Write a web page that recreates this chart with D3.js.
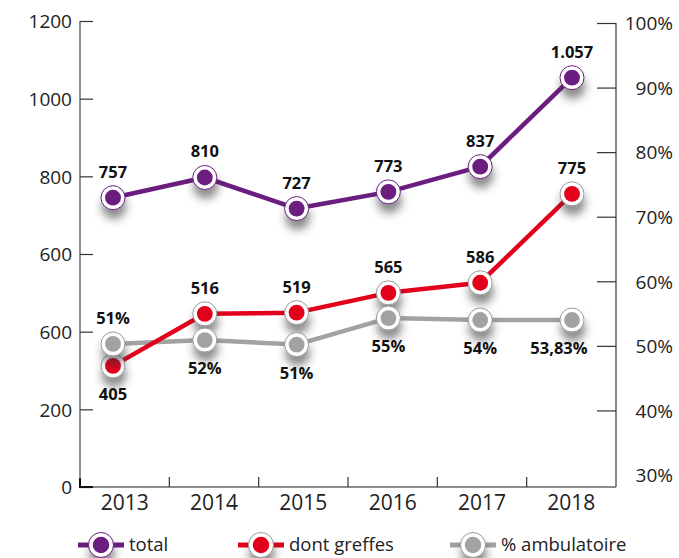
<!DOCTYPE html>
<html>
<head>
<meta charset="utf-8">
<script src="https://cdn.jsdelivr.net/npm/d3@7"></script>
<style>
  body { margin: 0; background: #fff; }
  text { font-family: "Open Sans", sans-serif; }
</style>
</head>
<body>
<div id="chart"></div>
<script>
const years = ["2013", "2014", "2015", "2016", "2017", "2018"];
// plotted positions (left axis units)
const totalValues = [745, 797, 717, 760, 825, 1054];
const totalLabels = ["757", "810", "727", "773", "837", "1.057"];
const greffesValues = [312, 446, 449, 500, 526, 755];
const greffesLabels = ["405", "516", "519", "565", "586", "775"];
// right axis, percent
const ambuValues = [50.3, 50.9, 50.2, 54.3, 54.0, 54.0];
const ambuLabels = ["51%", "52%", "51%", "55%", "54%", "53,83%"];
const leftTicks = [0, 200, 400, 600, 800, 1000, 1200];
const leftTickLabels = ["0", "200", "600", "600", "800", "1000", "1200"];
const rightTicks = [30, 40, 50, 60, 70, 80, 90, 100];

const purple = "#6b1d80", red = "#e3001b", grey = "#a2a2a2";

const W = 679, H = 558;
const svg = d3.select("#chart").append("svg").attr("width", W).attr("height", H);

const defs = svg.append("defs");
const f = defs.append("filter").attr("id", "shadow")
  .attr("x", "-60%").attr("y", "-60%").attr("width", "220%").attr("height", "240%");
f.append("feDropShadow").attr("dx", 1).attr("dy", 9).attr("stdDeviation", 4)
  .attr("flood-color", "#333").attr("flood-opacity", 0.55);

const x0 = 80, x1 = 616, yTop = 21, yBot = 487;

const xBand = d3.scaleBand().domain(years).range([x0, x1]);
const xPt = d3.scalePoint().domain(years).range([113, 572]);
const yL = d3.scaleLinear().domain([0, 1200]).range([yBot, yTop]);
const yR = d3.scaleLinear().domain([30, 100]).range([475, 23]);

// left axis
const gL = svg.append("g").attr("transform", `translate(${x0},0)`);
gL.call(d3.axisRight(yL).tickValues(leftTicks).tickSize(13).tickFormat(""));
gL.select(".domain").attr("stroke", "#777").attr("stroke-width", 1.6).attr("d", `M0,${yTop}V${yBot}`);
gL.selectAll(".tick line").attr("stroke", "#333").attr("stroke-width", 1.2);
gL.selectAll(".tick").append("text")
  .attr("x", -8).attr("dy", "0.36em").attr("text-anchor", "end")
  .attr("fill", "#222").style("font-size", "19px")
  .text((d, i) => leftTickLabels[i]);

// right axis
const gR = svg.append("g").attr("transform", `translate(${x1},0)`);
gR.call(d3.axisLeft(yR).tickValues(rightTicks).tickSize(19).tickFormat(""));
gR.select(".domain").attr("stroke", "#555").attr("stroke-width", 1.4).attr("d", `M0,23V${yBot}`);
gR.selectAll(".tick line").attr("stroke", "#333").attr("stroke-width", 1.2)
  .attr("opacity", d => d === 30 ? 0 : 1);
gR.selectAll(".tick").append("text")
  .attr("x", 57).attr("dy", "0.36em").attr("text-anchor", "end")
  .attr("fill", "#222").style("font-size", "19px")
  .text(d => d + "%");

// bottom axis
const gB = svg.append("g").attr("transform", `translate(0,${yBot})`);
gB.append("line").attr("x1", x0).attr("x2", x1).attr("stroke", "#666").attr("stroke-width", 1.6);
gB.selectAll(".sep").data(years.slice(1)).join("line")
  .attr("x1", d => xBand(d)).attr("x2", d => xBand(d))
  .attr("y1", 0).attr("y2", -10).attr("stroke", "#333").attr("stroke-width", 1.2);
gB.selectAll(".yr").data(years).join("text")
  .attr("x", d => xBand(d) + xBand.bandwidth() / 2).attr("y", 23)
  .attr("text-anchor", "middle").attr("fill", "#222").style("font-size", "21px")
  .text(d => d);
// dark corner at origin
svg.append("path").attr("d", `M${x0},${yBot - 9}V${yBot}H${x0 + 13}`)
  .attr("fill", "none").attr("stroke", "#111").attr("stroke-width", 2);

// series
const series = [
  { key: "ambu", vals: ambuValues, labels: ambuLabels, y: yR, color: grey, ring: "#999" },
  { key: "greffes", vals: greffesValues, labels: greffesLabels, y: yL, color: red, ring: "#999" },
  { key: "total", vals: totalValues, labels: totalLabels, y: yL, color: purple, ring: purple }
];

series.forEach(s => {
  const line = d3.line().x((d, i) => xPt(years[i])).y(d => s.y(d));
  svg.append("path").datum(s.vals).attr("d", line)
    .attr("fill", "none").attr("stroke", s.color).attr("stroke-width", 4.5)
    .attr("stroke-linejoin", "round");
});

function marker(g, cx, cy, s, r) {
  const m = g.append("g").attr("transform", `translate(${cx},${cy})`);
  m.append("circle").attr("r", r).attr("fill", "#fff").attr("stroke", s.ring).attr("stroke-width", 1)
    .attr("filter", "url(#shadow)");
  m.append("circle").attr("r", r * 0.66).attr("fill", s.color);
}

// markers: red first, then grey, then purple
[series[1], series[0], series[2]].forEach(s => {
  const g = svg.append("g");
  s.vals.forEach((v, i) => marker(g, xPt(years[i]), s.y(v), s, 12));
});

// data labels
series.forEach(s => {
  s.vals.forEach((v, i) => {
    let below = false, dx = 0;
    if (s.key === "greffes" && i === 0) below = true;
    if (s.key === "ambu" && i > 0) below = true;
    if (s.key === "ambu" && i === s.vals.length - 1) dx = -13;
    svg.append("text")
      .attr("x", xPt(years[i]) + dx)
      .attr("y", s.y(v) + (below ? 34 : -20))
      .attr("text-anchor", "middle")
      .attr("fill", "#111").style("font-size", "16.5px").style("font-weight", "bold")
      .text(s.labels[i]);
  });
});

// legend
const legend = [
  { name: "total", s: series[2], x: 78 },
  { name: "dont greffes", s: series[1], x: 238 },
  { name: "% ambulatoire", s: series[0], x: 450 }
];
const ly = 545;
legend.forEach(l => {
  const g = svg.append("g");
  g.append("line").attr("x1", l.x).attr("x2", l.x + 46).attr("y1", ly).attr("y2", ly)
    .attr("stroke", l.s.color).attr("stroke-width", 5);
  marker(g, l.x + 23, ly, l.s, 12.5);
  g.append("text").attr("x", l.x + 51).attr("y", ly).attr("dy", "0.34em")
    .attr("fill", "#222").style("font-size", "18.5px").text(l.name);
});
</script>
</body>
</html>
